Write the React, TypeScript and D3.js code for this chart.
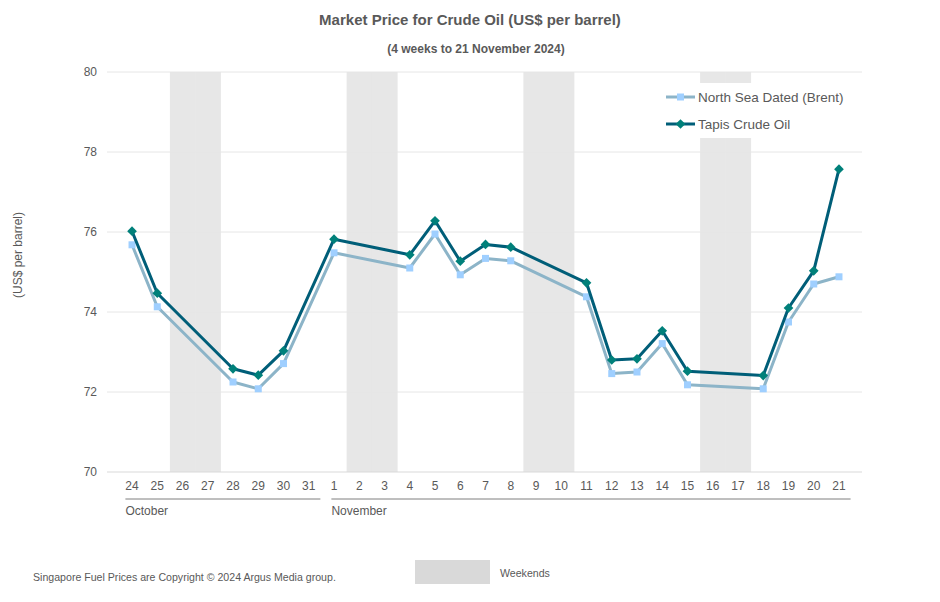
import React from "react";
import * as d3 from "d3";

const days = ["24","25","26","27","28","29","30","31","1","2","3","4","5","6","7","8","9","10","11","12","13","14","15","16","17","18","19","20","21"];
const months = [
  { label: "October", from: 0, to: 7 },
  { label: "November", from: 8, to: 28 },
];
const weekendIdx = [2, 3, 9, 10, 16, 17, 23, 24];

const brent: (number | null)[] = [75.68, 74.13, null, null, 72.25, 72.08, 72.71, null, 75.48, null, null, 75.1, 75.95, 74.93, 75.34, 75.28, null, null, 74.38, 72.46, 72.5, 73.21, 72.18, null, null, 72.08, 73.75, 74.7, 74.88];
const tapis: (number | null)[] = [76.02, 74.47, null, null, 72.58, 72.42, 73.03, null, 75.82, null, null, 75.43, 76.28, 75.27, 75.69, 75.62, null, null, 74.73, 72.8, 72.83, 73.53, 72.52, null, null, 72.41, 74.1, 75.03, 77.57];
const yTicks = [70, 72, 74, 76, 78, 80];

const FONT = "'Liberation Sans', Arial, sans-serif";
const TXT = "#595959";

export default function App() {
  const W = 940, H = 602;
  const x = d3.scaleBand<string>().domain(days.map((d, i) => String(i))).range([119.4, 851.6]).padding(0);
  const y = d3.scaleLinear().domain([70, 80]).range([472, 72]);
  const cx = (i: number) => (x(String(i)) as number) + x.bandwidth() / 2;
  const gridX0 = 107, gridX1 = 862;

  const mkLine = (vals: (number | null)[]) => {
    const pts = vals.map((v, i) => ({ i, v })).filter((p) => p.v !== null) as { i: number; v: number }[];
    return { pts, d: d3.line<{ i: number; v: number }>().x((p) => cx(p.i)).y((p) => y(p.v))(pts) || "" };
  };
  const b = mkLine(brent);
  const t = mkLine(tapis);
  const sym = d3.symbol().type(d3.symbolDiamond2).size(60)();
  const brentLine = "#8cb4c8";
  const brentMark = "#9fcfff";
  const tapisLine = "#005e78";
  const tapisMark = "#00807a";

  return (
    <svg width={W} height={H} style={{ position: "absolute", left: 0, top: 0, background: "#fff" }} fontFamily={FONT}>
      <text x={470} y={25} textAnchor="middle" fontSize={15} fontWeight="bold" fill={TXT}>Market Price for Crude Oil (US$ per barrel)</text>
      <text x={476} y={53} textAnchor="middle" fontSize={12} fontWeight="bold" fill={TXT}>(4 weeks to 21 November 2024)</text>

      {weekendIdx.map((i) => (
        <rect key={"w" + i} x={x(String(i)) as number} y={72} width={x.bandwidth() + 0.5} height={400} fill="#e7e7e7" />
      ))}
      {yTicks.map((v) => (
        <g key={"g" + v}>
          <line x1={gridX0} x2={gridX1} y1={y(v)} y2={y(v)} stroke={v === 70 ? "#d9d9d9" : "#e6e6e6"} strokeWidth={1} />
          <text x={97} y={y(v) + 4} textAnchor="end" fontSize={12} fill={TXT}>{v}</text>
        </g>
      ))}
      <text transform={`translate(22,255) rotate(-90)`} textAnchor="middle" fontSize={12} fill={TXT}>(US$ per barrel)</text>

      {days.map((d, i) => (
        <text key={"d" + i} x={cx(i)} y={490} textAnchor="middle" fontSize={12} fill={TXT}>{d}</text>
      ))}
      {months.map((m) => {
        const x0 = (x(String(m.from)) as number) + (m.from === 0 ? 6 : 10);
        const x1 = (x(String(m.to)) as number) + x.bandwidth() - 1;
        return (
          <g key={m.label}>
            <line x1={x0} x2={x1} y1={499} y2={499} stroke="#7f7f7f" strokeWidth={1} />
            <text x={x0} y={515} fontSize={12} fill={TXT}>{m.label}</text>
          </g>
        );
      })}

      <path d={b.d} fill="none" stroke={brentLine} strokeWidth={3} strokeLinejoin="round" />
      {b.pts.map((p) => (
        <rect key={"b" + p.i} x={cx(p.i) - 3.5} y={y(p.v) - 3.5} width={7} height={7} fill={brentMark} />
      ))}
      <path d={t.d} fill="none" stroke={tapisLine} strokeWidth={3} strokeLinejoin="round" />
      {t.pts.map((p) => (
        <path key={"t" + p.i} d={sym || ""} transform={`translate(${cx(p.i)},${y(p.v)})`} fill={tapisMark} />
      ))}

      <rect x={658} y={83} width={195} height={55} fill="#fff" />
      <line x1={666} x2={695} y1={97} y2={97} stroke={brentLine} strokeWidth={3} />
      <rect x={677} y={93.5} width={7} height={7} fill={brentMark} />
      <text x={698} y={102} fontSize={13.5} fill={TXT}>North Sea Dated (Brent)</text>
      <line x1={666} x2={695} y1={124} y2={124} stroke={tapisLine} strokeWidth={3} />
      <path d={sym || ""} transform="translate(680.5,124)" fill={tapisMark} />
      <text x={698} y={129} fontSize={13.5} fill={TXT}>Tapis Crude Oil</text>

      <text x={33} y={581} fontSize={10.6} fill={TXT}>Singapore Fuel Prices are Copyright © 2024 Argus Media group.</text>
      <rect x={415} y={560} width={75} height={24} fill="#d9d9d9" />
      <text x={500} y={577} fontSize={10.6} fill={TXT}>Weekends</text>
    </svg>
  );
}
